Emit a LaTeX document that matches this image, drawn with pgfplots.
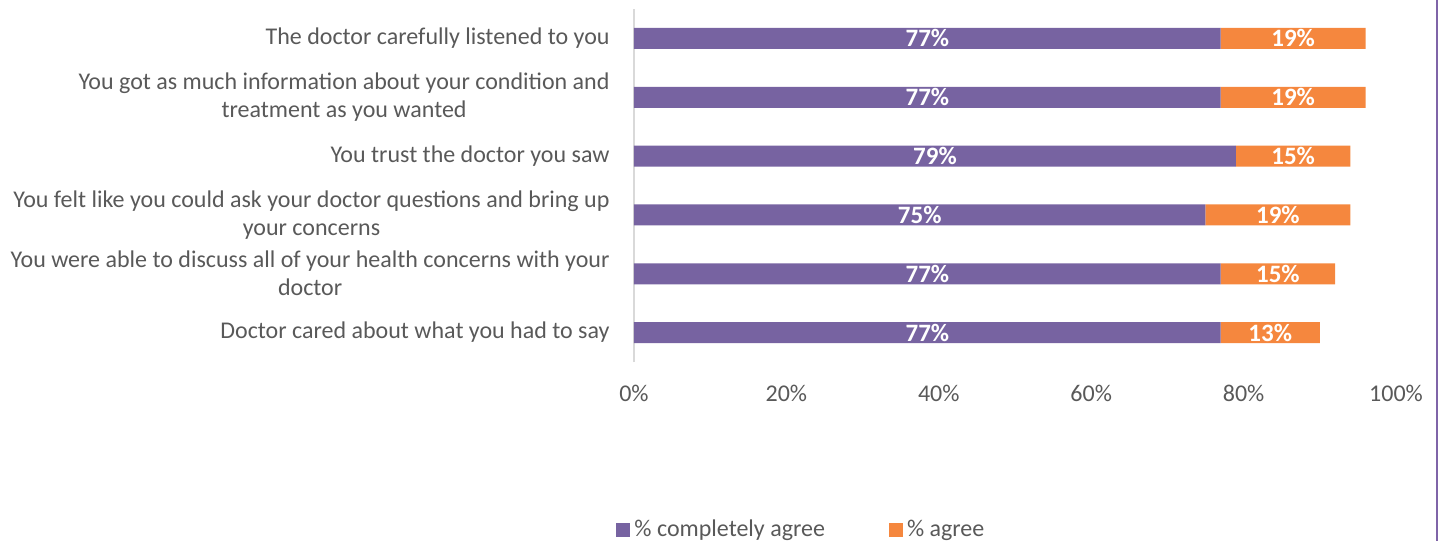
\documentclass[border=0pt]{standalone}
\usepackage{pgfplots}
\usepackage{pgfplotstable}
\pgfplotsset{compat=1.18}
\usepackage{fontspec}
\setmainfont{Carlito}
\definecolor{cpurple}{HTML}{7763A1}
\definecolor{corange}{HTML}{F5873E}
\definecolor{tgray}{HTML}{595959}
\definecolor{axgray}{HTML}{D9D9D9}
\definecolor{cborder}{HTML}{7F64A8}
\pgfplotstableread{
y a b
0 77 13
1 77 15
2 75 19
3 79 15
4 77 19
5 77 19
}\datatable
\begin{document}
\begin{tikzpicture}
\useasboundingbox (-317pt,-89.5pt) rectangle (403.5pt,181pt);
\draw[cborder, line width=1pt] (401.5pt,-89.5pt) -- (401.5pt,181pt);
\begin{axis}[
  at={(0,0)}, anchor=south west,
  scale only axis, width=381pt, height=176.5pt,
  xbar stacked, bar width=10.5pt,
  xmin=0, xmax=100, ymin=-0.5, ymax=5.5,
  axis x line*=bottom, axis y line*=left,
  x axis line style={draw=none},
  y axis line style={draw=axgray, line width=1pt, -},
  tick style={draw=none},
  major tick length=0pt,
  xtick={0,20,...,100},
  xticklabel={\pgfmathprintnumber{\tick}\%},
  /pgf/number format/assume math mode=true,
  xticklabel style={font=\fontsize{12}{14}\selectfont, text=tgray, anchor=center, inner sep=0pt, yshift=-15.5pt},
  ytick={0,...,5},
  yticklabels={
    {Doctor cared about what you had to say},
    {You were able to discuss all of your health concerns with your\\doctor},
    {You felt like you could ask your doctor questions and bring up\\your concerns},
    {You trust the doctor you saw},
    {You got as much information about your condition and\\treatment as you wanted},
    {The doctor carefully listened to you}},
  yticklabel style={align=center, font=\fontsize{12}{14}\selectfont, text=tgray, inner sep=0pt, anchor=east, xshift=-12pt},
  nodes near coords={\pgfmathprintnumber{\pgfplotspointmeta}\%},
  every node near coord/.append style={anchor=center, text=white, font=\bfseries\fontsize{12.5}{14}\selectfont},
  legend columns=2,
  legend style={at={(0.221,-0.476)}, anchor=center, draw=none, fill=none,
    font=\fontsize{12}{14}\selectfont, text=tgray,
    /tikz/every even column/.append style={column sep=30pt}},
]
\addplot[fill=cpurple, draw=none, point meta=\thisrow{a},
  legend image code/.code={\fill (0pt,-3.5pt) rectangle (7pt,3.5pt);}] table[x=a,y=y]{\datatable};
\addplot[fill=corange, draw=none, point meta=\thisrow{b},
  legend image code/.code={\fill (0pt,-3.5pt) rectangle (7pt,3.5pt);}] table[x=b,y=y]{\datatable};
\legend{\% completely agree, \% agree}
\end{axis}
\end{tikzpicture}
\end{document}
